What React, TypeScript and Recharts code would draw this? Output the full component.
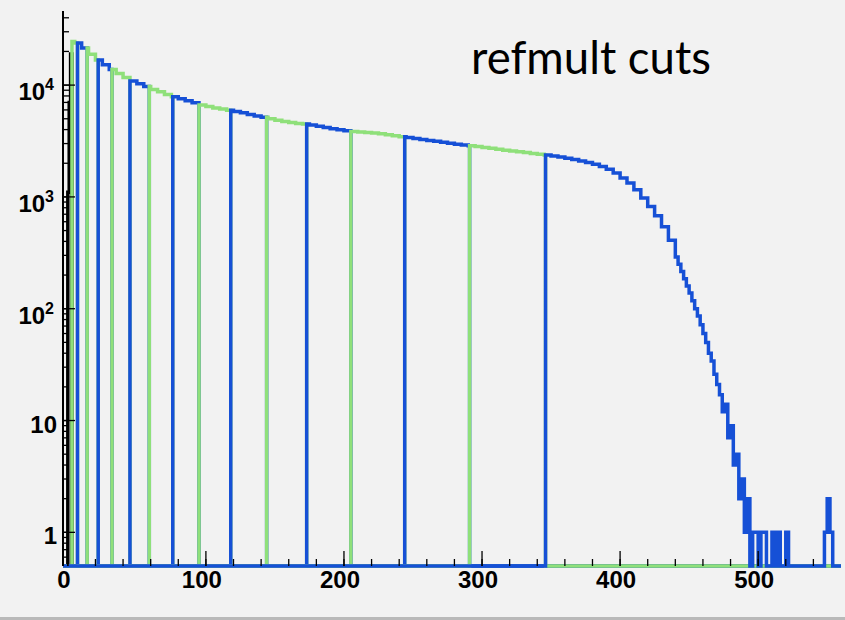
import React from 'react';
import { ComposedChart, Line, XAxis, YAxis } from 'recharts';

// refmult histogram: lower bin edges and entries per bin
const binLow = [
  0, 1, 2, 3,
  5, 10, 15, 20, 25, 30, 35, 40, 45, 50, 55, 60, 65, 70, 75, 80, 85, 90, 95, 100,
  105, 110, 115, 120, 125, 130, 135, 140, 145, 150, 155, 160, 165, 170, 175, 180, 185, 190, 195, 200,
  205, 210, 215, 220, 225, 230, 235, 240, 245, 250, 255, 260, 265, 270, 275, 280, 285, 290, 295, 300,
  305, 310, 315, 320, 325, 330, 335, 340, 345, 350, 355, 360, 365, 370, 375, 380, 385, 390, 395, 400,
  405, 410, 415, 420, 425, 430, 435,
  440, 442, 444, 446, 448, 450, 452, 454, 456, 458, 460, 462, 464, 466, 468, 470, 472, 474, 476, 478,
  480, 482, 484, 486, 488, 490, 492, 494, 496, 498, 500, 502, 504, 506, 508, 510, 512, 514, 516, 518,
  520, 522, 524, 526, 528, 530, 532, 534, 536, 538, 540, 542, 544, 546, 548, 550, 552, 554, 556, 558,
];
const binCount = [
  1100, 7000, 19000, 24500,
  23800, 21500, 18900, 16800, 15200, 13800, 12700, 11700, 10900, 10300, 9700, 9150, 8700, 8250, 7850, 7550, 7250, 6950, 6650, 6450,
  6250, 6100, 5950, 5800, 5650, 5450, 5300, 5150, 5000, 4850, 4720, 4620, 4540, 4480, 4400, 4280, 4180, 4080, 3980, 3900,
  3840, 3800, 3760, 3720, 3680, 3600, 3520, 3450, 3400, 3330, 3260, 3200, 3140, 3080, 3020, 2960, 2920, 2870, 2820, 2770,
  2720, 2670, 2620, 2580, 2530, 2490, 2450, 2410, 2370, 2320, 2270, 2220, 2160, 2100, 2030, 1960, 1870, 1770, 1640, 1480,
  1330, 1160, 980, 820, 680, 540, 410,
  290, 250, 215, 185, 160, 138, 118, 100, 86, 72, 60, 50, 40, 34, 26, 21, 17, 12, 14, 7,
  9, 4, 5, 2, 3, 1, 2, 0, 1, 1, 0, 1, 1, 0, 0, 1, 0, 1, 0, 0,
  1, 0, 0, 0, 0, 0, 0, 0, 0, 0, 0, 0, 0, 0, 1, 2, 1, 0, 0, 0,
];
const HIST_END = 560;

// centrality class boundaries in refmult; the full histogram shows below the first one
const cutEdges = [3, 7, 14, 22, 32, 45, 59, 76, 95, 118, 144, 173, 205, 244, 291, 346];

const xMajorTicks = [0, 100, 200, 300, 400, 500];
const xAllTicks = [
  0, 20, 40, 60, 80, 100, 120, 140, 160, 180, 200, 220, 240, 260, 280, 300, 320, 340,
  360, 380, 400, 420, 440, 460, 480, 500, 520, 540,
];
const yMajorTicks = [1, 10, 100, 1000, 10000];
const yAllTicks = [
  0.6, 0.7, 0.8, 0.9, 1, 2, 3, 4, 5, 6, 7, 8, 9, 10, 20, 30, 40, 50, 60, 70, 80, 90, 100,
  200, 300, 400, 500, 600, 700, 800, 900, 1000, 2000, 3000, 4000, 5000, 6000, 7000, 8000, 9000,
  10000, 20000, 30000, 40000,
];
const title = 'refmult cuts';

const X_MIN = -3.5;
const X_MAX = 560;
const Y_MIN = 0.5;
const Y_MAX = 46000;

const BLUE = '#1650d6';
const GREEN = '#8fe07a';
const BLACK = '#000000';

const W = 845;
const H = 617;
const LINE_W = 3.5;

// empty bins sit on the bottom of the log frame
const level = (c: number) => (c > 0 ? c : Y_MIN);

const binIndexAt = (x: number) => {
  let idx = 0;
  for (let i = 0; i < binLow.length; i++) if (binLow[i] <= x) idx = i;
  return idx;
};

// outline of one refmult range, dropping to the frame bottom outside it
function rangeOutline(lo: number, hi: number) {
  const pts: { x: number; y: number }[] = [
    { x: X_MIN, y: Y_MIN },
    { x: lo, y: Y_MIN },
  ];
  const first = binIndexAt(lo);
  pts.push({ x: lo, y: level(binCount[first]) });
  for (let i = first + 1; i < binLow.length && binLow[i] < hi; i++) {
    pts.push({ x: binLow[i], y: level(binCount[i]) });
  }
  pts.push({ x: hi, y: pts[pts.length - 1].y });
  pts.push({ x: hi, y: Y_MIN });
  if (hi < X_MAX) pts.push({ x: X_MAX, y: Y_MIN });
  return pts;
}

const fullOutline = rangeOutline(binLow[0], cutEdges[0]);
const classes = cutEdges.map((lo, i) => ({
  key: `c${i}`,
  color: i % 2 === 0 ? GREEN : BLUE,
  points: rangeOutline(lo, i + 1 < cutEdges.length ? cutEdges[i + 1] : HIST_END),
}));

const Y_MINOR = 6;
const Y_MARGIN = 13;
const X_MINOR = 7;
const X_MARGIN = 13;
const labelFont = '"Liberation Sans", Arial, Helvetica, sans-serif';

const YTick = (props: any) => {
  const { x, y, payload } = props;
  const v = payload.value as number;
  if (!yMajorTicks.includes(v)) return <g />;
  const axisX = x + Y_MARGIN - Y_MINOR;
  const exp = Math.round(Math.log10(v));
  return (
    <g>
      <line x1={axisX} x2={axisX + 12} y1={y} y2={y} stroke="#000" strokeWidth={1.3} />
      {exp <= 1 ? (
        <text x={axisX - 6} y={y + 12} textAnchor="end" fontFamily={labelFont} fontWeight={700} fontSize={24} fill="#000">
          {exp === 0 ? '1' : '10'}
        </text>
      ) : (
        <text x={axisX - 9} y={y + 15} textAnchor="end" fontFamily={labelFont} fontWeight={700} fontSize={24} fill="#000">
          <tspan>10</tspan>
          <tspan dy={-10} fontSize={16}>{exp}</tspan>
        </text>
      )}
    </g>
  );
};

const XTick = (props: any) => {
  const { x, y, payload } = props;
  const v = payload.value as number;
  if (!xMajorTicks.includes(v)) return <g />;
  const axisY = y - X_MARGIN + X_MINOR;
  return (
    <g>
      <line x1={x} x2={x} y1={axisY} y2={axisY - 15} stroke="#000" strokeWidth={1.3} />
      <text x={x - 4} y={y - 1} dy="0.71em" textAnchor="middle" fontFamily={labelFont} fontWeight={700} fontSize={24} fill="#000">
        {v}
      </text>
    </g>
  );
};

export default function App() {
  return (
    <div
      style={{
        position: 'absolute',
        left: 0,
        top: 0,
        width: W,
        height: 620,
        background: '#f2f2f2',
        borderBottom: '3px solid #b9b9b9',
        boxSizing: 'border-box',
      }}
    >
      <ComposedChart width={W} height={H} margin={{ top: 11, right: 4, bottom: 0, left: 0 }}>
        <XAxis
          xAxisId="x"
          dataKey="x"
          type="number"
          domain={[X_MIN, X_MAX]}
          ticks={xAllTicks}
          interval={0}
          height={51}
          tickSize={-X_MINOR}
          tickMargin={X_MARGIN}
          tick={<XTick />}
          tickLine={{ stroke: '#000', strokeWidth: 1.3 }}
          axisLine={false}
        />
        <XAxis
          xAxisId="frameTop"
          orientation="top"
          type="number"
          domain={[X_MIN, X_MAX]}
          height={0}
          ticks={[]}
          tick={false}
          tickLine={false}
          axisLine={{ stroke: '#111', strokeWidth: 1.6 }}
        />
        <YAxis
          yAxisId="y"
          type="number"
          scale="log"
          domain={[Y_MIN, Y_MAX]}
          ticks={yAllTicks}
          interval={0}
          width={63}
          tickSize={-Y_MINOR}
          tickMargin={Y_MARGIN}
          tick={<YTick />}
          tickLine={{ stroke: '#000', strokeWidth: 1.3 }}
          axisLine={{ stroke: '#000', strokeWidth: 2 }}
        />
        <YAxis
          yAxisId="frameRight"
          orientation="right"
          type="number"
          domain={[0, 1]}
          width={0}
          ticks={[]}
          tick={false}
          tickLine={false}
          axisLine={{ stroke: '#555', strokeWidth: 1 }}
        />
        <Line
          xAxisId="x"
          yAxisId="y"
          data={fullOutline}
          dataKey="y"
          type="stepAfter"
          stroke={BLACK}
          strokeWidth={LINE_W}
          dot={false}
          activeDot={false}
          isAnimationActive={false}
        />
        {classes.map((c) => (
          <Line
            key={c.key}
            xAxisId="x"
            yAxisId="y"
            data={c.points}
            dataKey="y"
            type="stepAfter"
            stroke={c.color}
            strokeWidth={LINE_W}
            dot={false}
            activeDot={false}
            isAnimationActive={false}
          />
        ))}
        <text x={471} y={74} fontFamily="Lato, 'Open Sans', sans-serif" fontSize={45.5} fill="#000">
          {title}
        </text>
      </ComposedChart>
    </div>
  );
}
